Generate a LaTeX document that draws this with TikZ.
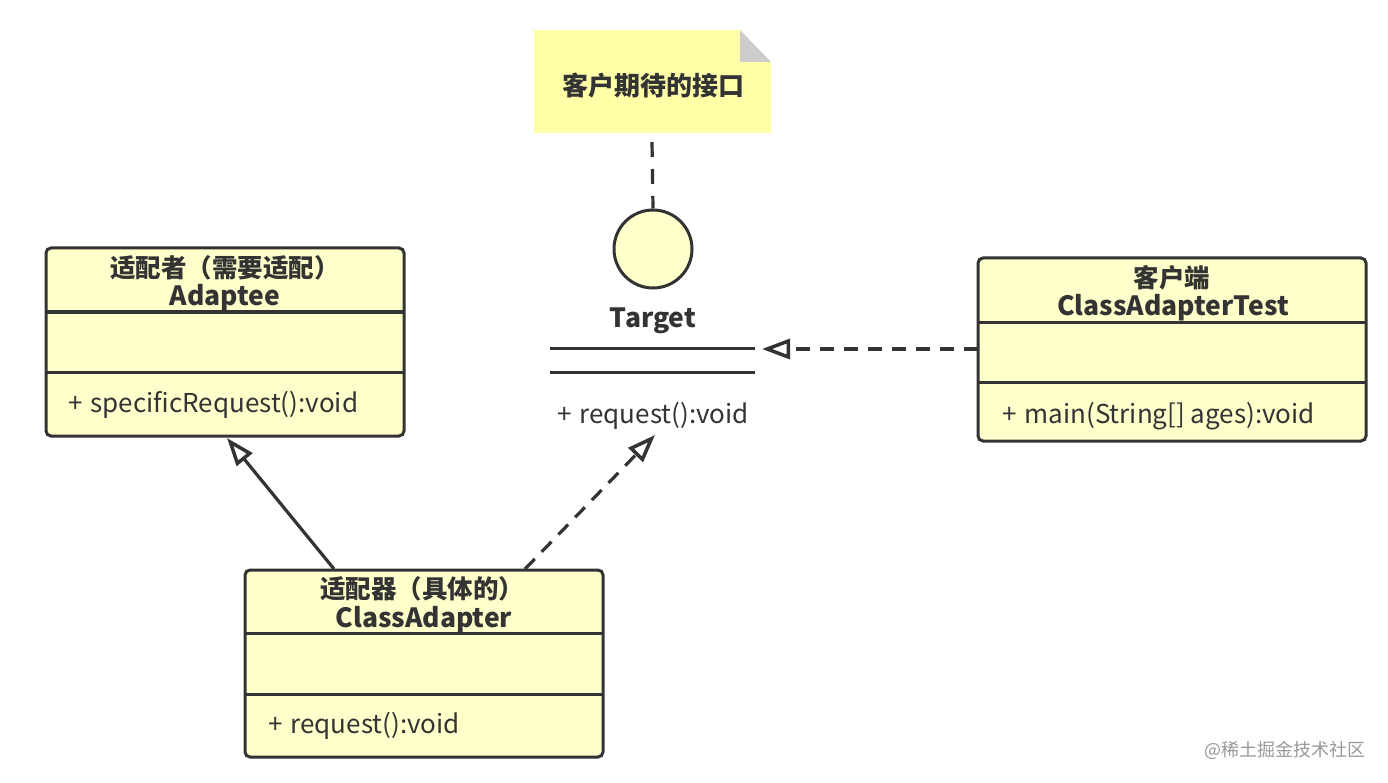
\documentclass[tikz,border=0pt]{standalone}
\usepackage{fontspec}
\setmainfont{Noto Sans CJK SC}
\usetikzlibrary{arrows.meta}
\definecolor{ink}{HTML}{333333}
\definecolor{boxfill}{HTML}{FFFFCC}
\definecolor{notefill}{HTML}{FFFFA8}
\definecolor{foldgray}{HTML}{CCCCCC}
\newcommand{\plussp}{+\hspace{8pt}}
\tikzset{
  umlbox/.style={draw=ink, line width=3pt, fill=boxfill, rounded corners=5pt},
  divider/.style={draw=ink, line width=3pt},
  titletext/.style={text=ink, font=\fontsize{26.5}{30}\selectfont\bfseries, align=center, inner sep=0pt},
  cjktitle/.style={text=ink, font=\fontsize{25.5}{30}\selectfont\bfseries, align=center, inner sep=0pt},
  bodytext/.style={text=ink, font=\fontsize{26}{30}\selectfont, anchor=west, inner sep=0pt},
  headtip/.style={-{Triangle[open, length=28pt, width=20pt, line width=3.5pt, fill=white]}},
  realize/.style={draw=ink, line width=3.2pt, dash pattern=on 14pt off 10pt, headtip},
  inherit/.style={draw=ink, line width=3.2pt, headtip},
}
\begin{document}
\begin{tikzpicture}[x=1pt, y=-1pt]
\useasboundingbox (0,0) rectangle (1388,783);
\fill[white] (0,0) rectangle (1388,783);

% note
\fill[notefill] (534,30) -- (740,30) -- (771,62) -- (771,133) -- (534,133) -- cycle;
\fill[foldgray] (740,30) -- (771,62) -- (740,62) -- cycle;
\node[cjktitle, font=\fontsize{26}{30}\selectfont\bfseries] (note) at (653,86) {客户期待的接口};
\coordinate (noteb) at (652,142);

% interface lollipop
\node[circle, draw=ink, line width=3pt, fill=boxfill, minimum size=78pt, inner sep=0pt] (circ) at (653,249) {};
\draw[ink, line width=3.2pt, dash pattern=on 15pt off 12pt] (noteb) -- (circ.north);
\node[titletext] (target) at (653,321) {Target};
\coordinate (tl1) at (550,348); \coordinate (tr1) at (755,348);
\coordinate (tl2) at (550,372); \coordinate (tr2) at (755,372);
\draw[divider] (tl1) -- (tr1);
\draw[divider] (tl2) -- (tr2);
\node[bodytext, anchor=center] (treq) at (653,416) {\plussp request():void};
\coordinate (tarr) at (762,349);
\coordinate (tbot) at (655,435);

% Adaptee
\draw[umlbox] (46,248) rectangle (404,436);
\draw[divider] (46,312) -- (404,312);
\draw[divider] (46,372) -- (404,372);
\node[cjktitle] (adt1) at (225,268) {适配者（需要适配）};
\node[titletext] (adt2) at (225,298) {Adaptee};
\node[bodytext] (adm) at (68,405) {\plussp specificRequest():void};
\coordinate (adbot) at (227,438);

% ClassAdapterTest
\draw[umlbox] (978,258) rectangle (1366,441);
\draw[divider] (978,322) -- (1366,322);
\draw[divider] (978,382) -- (1366,382);
\node[cjktitle] (cat1) at (1172,278) {客户端};
\node[titletext] (cat2) at (1173,308) {ClassAdapterTest};
\node[bodytext] (catm) at (1002,416) {\plussp main(String[] ages):void};
\coordinate (catl) at (978,349);

% ClassAdapter
\draw[umlbox] (245,570) rectangle (603,757);
\draw[divider] (245,633) -- (603,633);
\draw[divider] (245,694) -- (603,694);
\node[cjktitle] (ca1) at (422,589) {适配器（具体的）};
\node[titletext] (ca2) at (424,620) {ClassAdapter};
\node[bodytext] (cam) at (268,726) {\plussp request():void};
\coordinate (cas) at (334,569);
\coordinate (cad) at (525,569);

% connectors
\draw[realize] (catl) -- (tarr);
\draw[inherit] (cas) -- (adbot);
\draw[realize] (cad) -- (tbot);

% watermark
\node[text=black!40, font=\fontsize{18}{20}\selectfont, inner sep=0pt] (wm) at (1285,750) {@稀土掘金技术社区};
\end{tikzpicture}
\end{document}
